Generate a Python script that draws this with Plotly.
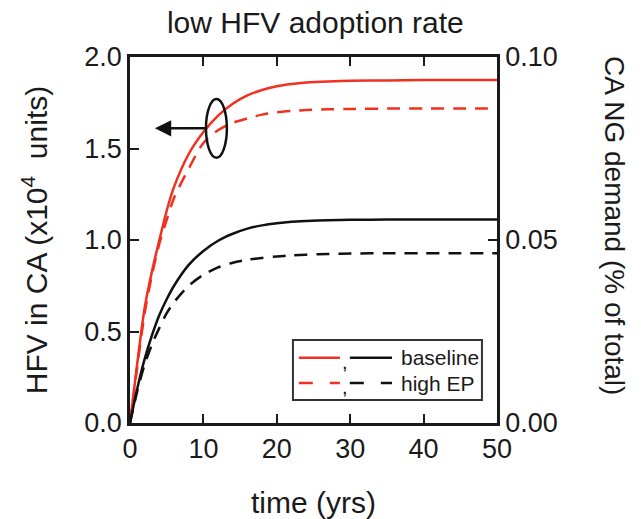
import plotly.graph_objects as go

# ---- data ----
t = [0, 1, 2, 3, 4, 5, 6, 8, 10, 12, 14, 16, 18, 20, 22, 24, 27, 30, 35, 40, 45, 50]
hfv_baseline = [0, 0.33, 0.63, 0.83, 1.00, 1.16, 1.29, 1.47, 1.59, 1.68, 1.745, 1.79, 1.82, 1.84, 1.852, 1.86, 1.866, 1.87, 1.872, 1.874, 1.875, 1.875]
hfv_highEP = [0, 0.31, 0.60, 0.81, 0.98, 1.11, 1.23, 1.39, 1.53, 1.60, 1.64, 1.665, 1.685, 1.698, 1.705, 1.71, 1.714, 1.716, 1.718, 1.718, 1.718, 1.718]
ng_baseline = [0, 0.0095, 0.0175, 0.024, 0.0295, 0.0338, 0.0375, 0.0432, 0.047, 0.0498, 0.0517, 0.0531, 0.054, 0.0546, 0.055, 0.0552, 0.0554, 0.0555, 0.0556, 0.0556, 0.0556, 0.0556]
ng_highEP = [0, 0.0088, 0.016, 0.0215, 0.026, 0.030, 0.033, 0.0375, 0.0405, 0.0425, 0.0438, 0.0446, 0.0451, 0.0455, 0.0458, 0.046, 0.0462, 0.0463, 0.0464, 0.0464, 0.0464, 0.0464]
x_ticks = [0, 10, 20, 30, 40, 50]
y_ticks = [0.0, 0.5, 1.0, 1.5, 2.0]
y2_ticks = [0.00, 0.05, 0.10]

RED = "#f2301f"
BLK = "#111111"
TXT = "#1a1a1a"
FONT = "Liberation Sans, Arial, sans-serif"

fig = go.Figure()
fig.add_trace(go.Scatter(x=t, y=hfv_baseline, mode="lines", line=dict(color=RED, width=2.5, shape="spline", smoothing=0.8), showlegend=False))
fig.add_trace(go.Scatter(x=t, y=hfv_highEP, mode="lines", line=dict(color=RED, width=2.5, dash="13px,9px", shape="spline", smoothing=0.8), showlegend=False))
fig.add_trace(go.Scatter(x=t, y=ng_baseline, mode="lines", yaxis="y2", line=dict(color=BLK, width=2.5, shape="spline", smoothing=0.8), showlegend=False))
fig.add_trace(go.Scatter(x=t, y=ng_highEP, mode="lines", yaxis="y2", line=dict(color=BLK, width=2.5, dash="13px,9px", shape="spline", smoothing=0.8), showlegend=False))

axis_common = dict(showgrid=False, zeroline=False, showline=True, linecolor=TXT, linewidth=2.5,
                   ticks="inside", ticklen=9, tickwidth=2, tickcolor=TXT, automargin=False,
                   tickfont=dict(family=FONT, size=27, color=TXT))

fig.update_layout(
    width=641, height=519,
    margin=dict(l=130, r=144, t=57, b=96, autoexpand=False),
    paper_bgcolor="white", plot_bgcolor="white",
    title=dict(text="low HFV adoption rate", x=0.492, xanchor="center", y=0.957, yanchor="middle",
               font=dict(family=FONT, size=30, color=TXT)),
    xaxis=dict(range=[0, 50], tickvals=x_ticks, mirror="ticks",
               title=dict(text="time (yrs)", font=dict(family=FONT, size=30, color=TXT), standoff=30),
               **axis_common),
    yaxis=dict(range=[0, 2.0], tickvals=y_ticks, tickformat=".1f", mirror=False,
               title=dict(text="HFV in CA (x10<sup>4</sup>&nbsp;&nbsp;units)", font=dict(family=FONT, size=30, color=TXT), standoff=28),
               **axis_common),
    yaxis2=dict(range=[0, 0.10], tickvals=y2_ticks, tickformat=".2f", overlaying="y", side="right",
                **axis_common),
)

# right axis title, reading top-to-bottom
fig.add_annotation(x=1.3215, y=0.538, xref="paper", yref="paper", text="CA NG demand (% of total)",
                   textangle=90, showarrow=False, xanchor="center", yanchor="middle",
                   font=dict(family=FONT, size=28, color=TXT))

# ellipse and arrow annotation (data coords)
fig.add_shape(type="circle", xref="x", yref="y", x0=10.35, x1=13.2, y0=1.45, y1=1.77,
              line=dict(color=BLK, width=2.5))
fig.add_annotation(x=3.4, y=1.61, ax=10.6, ay=1.61, xref="x", yref="y", axref="x", ayref="y",
                   text="", showarrow=True, arrowhead=2, arrowsize=1.3, arrowwidth=2.5, arrowcolor=BLK)

# manual legend (paper coords)
fig.add_shape(type="rect", xref="paper", yref="paper", x0=0.444, x1=0.959, y0=0.063, y1=0.227,
              line=dict(color="#333333", width=2), fillcolor="white")
rows = [(0.178, None, "baseline"), (0.109, "14px,17px", "high EP")]
for yy, dsh, label in rows:
    ld = dict(width=2.5)
    if dsh:
        ld["dash"] = dsh
    fig.add_shape(type="line", xref="paper", yref="paper", x0=0.460, x1=0.572, y0=yy, y1=yy,
                  line=dict(color=RED, **ld))
    fig.add_shape(type="line", xref="paper", yref="paper", x0=0.599, x1=0.714, y0=yy, y1=yy,
                  line=dict(color=BLK, **ld))
    fig.add_annotation(x=0.585, y=yy - 0.012, xref="paper", yref="paper", text=",", showarrow=False,
                       font=dict(family=FONT, size=20, color=BLK), xanchor="center", yanchor="middle")
    fig.add_annotation(x=0.733, y=yy, xref="paper", yref="paper", text=label, showarrow=False,
                       font=dict(family=FONT, size=21, color=TXT), xanchor="left", yanchor="middle")

fig.write_html("out.html", config={"displayModeBar": False},
               post_script="document.body.style.margin='0';document.body.style.overflow='hidden';")
